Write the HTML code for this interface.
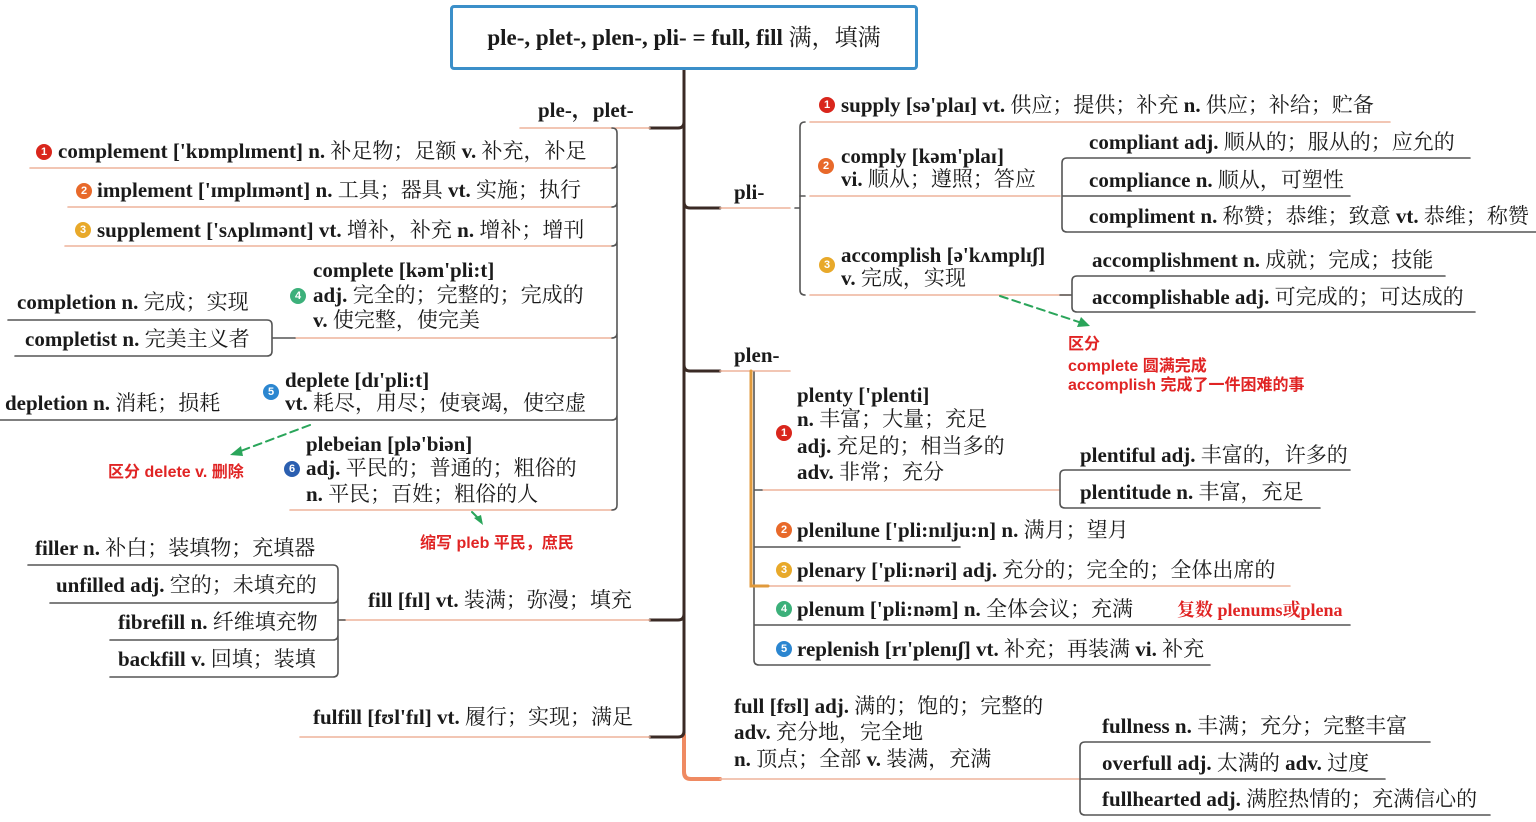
<!DOCTYPE html>
<html><head><meta charset="utf-8">
<style>
html,body{margin:0;padding:0;background:#fff;}
body{width:1536px;height:822px;position:relative;overflow:hidden;font-family:"Liberation Serif","Noto Serif CJK SC",serif;color:#1a1a1a;}
.t{position:absolute;white-space:nowrap;font-size:21px;line-height:24px;height:24px;}
.t b{font-weight:bold;}
.bd{position:absolute;width:16px;height:16px;border-radius:50%;color:#fff;font:bold 11px/16px "Liberation Sans",sans-serif;text-align:center;}
.r{position:absolute;white-space:nowrap;color:#e02424;font:bold 16px/20px "Liberation Sans","Noto Sans CJK SC",sans-serif;}
.c1{background:#d9261c}.c2{background:#e8692a}.c3{background:#e8a92a}.c4{background:#3cb07a}.c5{background:#2b86d0}.c6{background:#2b5fb0}
#title{position:absolute;left:450px;top:5px;width:462px;height:59px;border:3px solid #3b8fc9;border-radius:4px;text-align:center;font:bold 23px/59px "Liberation Serif","Noto Serif CJK SC",serif;}
</style></head><body>
<svg width="1536" height="822" style="position:absolute;left:0;top:0">
<g fill="none" stroke-linecap="round">
<path d="M684 70 V735" stroke="#3a2a25" stroke-width="3"/>
<path d="M684 735 V772 Q684 779 691 779 H720" stroke="#ef8a62" stroke-width="4"/>
<path d="M650 128 H678 Q684 128 684 122 M650 620 H678 Q684 620 684 614 M650 737 H678 Q684 737 684 731" stroke="#3a2a25" stroke-width="3"/>
<path d="M684 202 Q684 208 690 208 H720 M684 365 Q684 371 690 371 H720" stroke="#3a2a25" stroke-width="3"/>
<g stroke="#eeb49c" stroke-width="1.6">
<path d="M520 128 H650 M340 620 H650 M300 737 H650 M720 208 H790 M720 371 H790 M720 779 H1080"/>
<path d="M30 168 H612 M68 207 H612 M65 246 H612 M295 338 H612 M290 510 H612"/>
<path d="M810 122 H1390 M810 196 H1060 M810 295 H1070"/>
<path d="M762 490 H1060 M762 586 H1290"/>
</g>
<g stroke="#555" stroke-width="1.6">
<path d="M612 128 Q617 128 617 133 V163 Q617 168 612 168 M617 163 V202 Q617 207 612 207 M617 202 V241 Q617 246 612 246 M617 241 V333 Q617 338 612 338 M617 333 V415 Q617 420 612 420 M617 415 V505 Q617 510 612 510"/>
<path d="M0 420 H612"/>
<path d="M8 320 H267 Q272 320 272 325 V351 Q272 356 267 356 H15 M272 338 H295"/>
<path d="M28 565 H333 Q338 565 338 570 V598 Q338 603 333 603 H50 M338 598 V635 Q338 640 333 640 H110 M338 635 V672 Q338 677 333 677 H110 M338 620 H345"/>
<path d="M800 208 H795 M805 122 Q800 122 800 127 V290 Q800 295 805 295"/>
<path d="M800 196 H805"/>
<path d="M1470 158 H1067 Q1062 158 1062 163 V227 Q1062 232 1067 232 H1536 M1062 196 H1350"/>
<path d="M1445 276 H1077 Q1072 276 1072 281 V307 Q1072 312 1077 312 H1475 M1060 295 H1072"/>
<path d="M754 372 V660 Q754 665 759 665 H1210 M754 490 H762 M754 547 H960 M754 625 H1350"/>
<path d="M1350 470 H1065 Q1060 470 1060 475 V503 Q1060 508 1065 508 H1320"/>
<path d="M1430 742 H1085 Q1080 742 1080 747 V810 Q1080 815 1085 815 H1490 M1080 779 H1385"/>
</g>
<path d="M751 371 V586 H768" stroke="#e09a3c" stroke-width="3"/>
<g stroke="#2aa55a" stroke-width="2" stroke-dasharray="8,5">
<path d="M310 425 L238 452"/><path d="M1000 296 L1082 323"/>
</g>
<g fill="#2aa55a" stroke="none">
<path d="M230 455 L241 446 L243 456 Z"/><path d="M1090 326 L1077 327 L1081 317 Z"/>
<path d="M483 525 L474 518 L481 515 Z"/>
</g>
<path d="M472 512 L479 519" stroke="#2aa55a" stroke-width="2"/>
</g>
</svg>

<div id="title">ple-, plet-, plen-, pli- = full, fill <span style="font-weight:normal">满，填满</span></div>

<div class="t" style="left:538px;top:98px"><b>ple-，plet-</b></div>
<div class="bd c1" style="left:36px;top:144px">1</div>
<div class="t" style="left:58px;top:139px"><b>complement ['kɒmplɪment] n.</b> 补足物；足额 <b>v.</b> 补充，补足</div>
<div class="bd c2" style="left:76px;top:183px">2</div>
<div class="t" style="left:97px;top:178px"><b>implement ['ɪmplɪmənt] n.</b> 工具；器具 <b>vt.</b> 实施；执行</div>
<div class="bd c3" style="left:75px;top:222px">3</div>
<div class="t" style="left:97px;top:218px"><b>supplement ['sʌplɪmənt] vt.</b> 增补，补充 <b>n.</b> 增补；增刊</div>
<div class="t" style="left:313px;top:258px"><b>complete [kəm'pli:t]</b></div>
<div class="bd c4" style="left:290px;top:288px">4</div>
<div class="t" style="left:313px;top:283px"><b>adj.</b> 完全的；完整的；完成的</div>
<div class="t" style="left:313px;top:308px"><b>v.</b> 使完整，使完美</div>
<div class="t" style="left:17px;top:290px"><b>completion n.</b> 完成；实现</div>
<div class="t" style="left:25px;top:327px"><b>completist n.</b> 完美主义者</div>
<div class="bd c5" style="left:263px;top:384px">5</div>
<div class="t" style="left:285px;top:368px"><b>deplete [dɪ'pli:t]</b></div>
<div class="t" style="left:285px;top:391px"><b>vt.</b> 耗尽，用尽；使衰竭，使空虚</div>
<div class="t" style="left:5px;top:391px"><b>depletion n.</b> 消耗；损耗</div>
<div class="bd c6" style="left:284px;top:461px">6</div>
<div class="t" style="left:306px;top:432px"><b>plebeian [plə'biən]</b></div>
<div class="t" style="left:306px;top:456px"><b>adj.</b> 平民的；普通的；粗俗的</div>
<div class="t" style="left:306px;top:482px"><b>n.</b> 平民；百姓；粗俗的人</div>
<div class="r" style="left:108px;top:463px">区分 delete v. 删除</div>
<div class="r" style="left:420px;top:534px">缩写 pleb 平民，庶民</div>

<div class="t" style="left:35px;top:536px"><b>filler n.</b> 补白；装填物；充填器</div>
<div class="t" style="left:56px;top:573px"><b>unfilled adj.</b> 空的；未填充的</div>
<div class="t" style="left:118px;top:610px"><b>fibrefill n.</b> 纤维填充物</div>
<div class="t" style="left:118px;top:647px"><b>backfill v.</b> 回填；装填</div>
<div class="t" style="left:368px;top:588px"><b>fill [fɪl] vt.</b> 装满；弥漫；填充</div>
<div class="t" style="left:313px;top:705px"><b>fulfill [fʊl'fɪl] vt.</b> 履行；实现；满足</div>

<div class="t" style="left:734px;top:180px"><b>pli-</b></div>
<div class="bd c1" style="left:819px;top:97px">1</div>
<div class="t" style="left:841px;top:93px"><b>supply [sə'plaɪ] vt.</b> 供应；提供；补充 <b>n.</b> 供应；补给；贮备</div>
<div class="bd c2" style="left:818px;top:158px">2</div>
<div class="t" style="left:841px;top:144px"><b>comply [kəm'plaɪ]</b></div>
<div class="t" style="left:841px;top:167px"><b>vi.</b> 顺从；遵照；答应</div>
<div class="t" style="left:1089px;top:130px"><b>compliant adj.</b> 顺从的；服从的；应允的</div>
<div class="t" style="left:1089px;top:168px"><b>compliance n.</b> 顺从，可塑性</div>
<div class="t" style="left:1089px;top:204px"><b>compliment n.</b> 称赞；恭维；致意 <b>vt.</b> 恭维；称赞</div>
<div class="bd c3" style="left:819px;top:257px">3</div>
<div class="t" style="left:841px;top:243px"><b>accomplish [ə'kʌmplɪʃ]</b></div>
<div class="t" style="left:841px;top:266px"><b>v.</b> 完成，实现</div>
<div class="t" style="left:1092px;top:248px"><b>accomplishment n.</b> 成就；完成；技能</div>
<div class="t" style="left:1092px;top:285px"><b>accomplishable adj.</b> 可完成的；可达成的</div>
<div class="r" style="left:1068px;top:335px">区分</div>
<div class="r" style="left:1068px;top:357px">complete 圆满完成</div>
<div class="r" style="left:1068px;top:376px">accomplish 完成了一件困难的事</div>

<div class="t" style="left:734px;top:343px"><b>plen-</b></div>
<div class="bd c1" style="left:776px;top:425px">1</div>
<div class="t" style="left:797px;top:383px"><b>plenty ['plenti]</b></div>
<div class="t" style="left:797px;top:407px"><b>n.</b> 丰富；大量；充足</div>
<div class="t" style="left:797px;top:434px"><b>adj.</b> 充足的；相当多的</div>
<div class="t" style="left:797px;top:460px"><b>adv.</b> 非常；充分</div>
<div class="t" style="left:1080px;top:443px"><b>plentiful adj.</b> 丰富的，许多的</div>
<div class="t" style="left:1080px;top:480px"><b>plentitude n.</b> 丰富，充足</div>
<div class="bd c2" style="left:776px;top:522px">2</div>
<div class="t" style="left:797px;top:518px"><b>plenilune ['pli:nɪlju:n] n.</b> 满月；望月</div>
<div class="bd c3" style="left:776px;top:562px">3</div>
<div class="t" style="left:797px;top:558px"><b>plenary ['pli:nəri] adj.</b> 充分的；完全的；全体出席的</div>
<div class="bd c4" style="left:776px;top:601px">4</div>
<div class="t" style="left:797px;top:597px"><b>plenum ['pli:nəm] n.</b> 全体会议；充满</div>
<div class="t" style="left:1177px;top:598px;color:#e02424;font-size:18px"><b>复数 plenums或plena</b></div>
<div class="bd c5" style="left:776px;top:641px">5</div>
<div class="t" style="left:797px;top:637px"><b>replenish [rɪ'plenɪʃ] vt.</b> 补充；再装满 <b>vi.</b> 补充</div>

<div class="t" style="left:734px;top:694px"><b>full [fʊl] adj.</b> 满的；饱的；完整的</div>
<div class="t" style="left:734px;top:720px"><b>adv.</b> 充分地，完全地</div>
<div class="t" style="left:734px;top:747px"><b>n.</b> 顶点；全部 <b>v.</b> 装满，充满</div>
<div class="t" style="left:1102px;top:714px"><b>fullness n.</b> 丰满；充分；完整丰富</div>
<div class="t" style="left:1102px;top:751px"><b>overfull adj.</b> 太满的 <b>adv.</b> 过度</div>
<div class="t" style="left:1102px;top:787px"><b>fullhearted adj.</b> 满腔热情的；充满信心的</div>
</body></html>
